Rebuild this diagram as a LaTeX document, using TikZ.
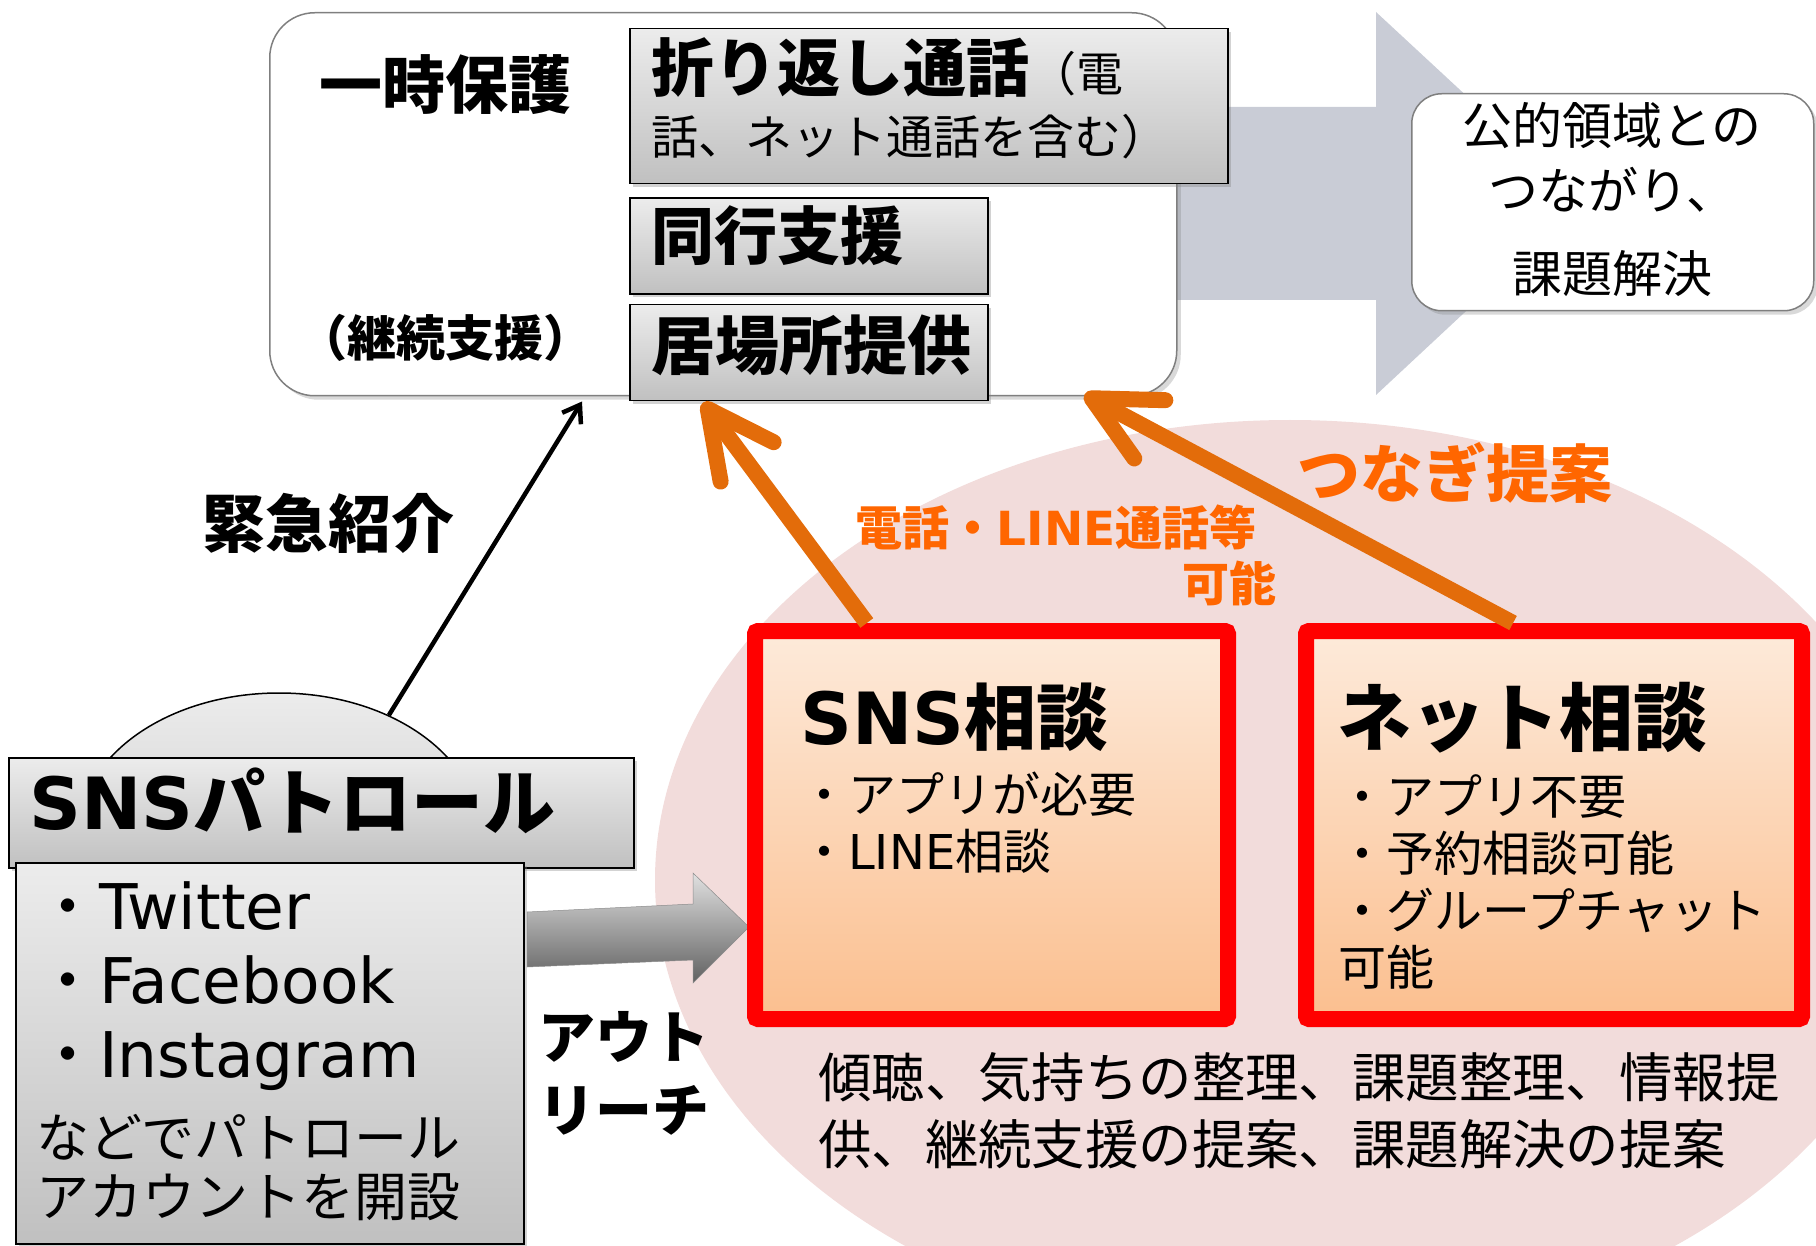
\documentclass[tikz,border=0pt]{standalone}
\usepackage{fontspec}
\setmainfont{Noto Sans CJK JP}
\newfontfamily\lat{DejaVu Sans}
\usepackage{tikz}
\usetikzlibrary{positioning}
\usetikzlibrary{arrows.meta,calc,shadows,shapes.geometric}

\definecolor{flowgray}{RGB}{201,204,214}
\definecolor{pinkbg}{RGB}{242,220,219}
\definecolor{arcorange}{RGB}{227,108,10}
\definecolor{txtorange}{RGB}{255,102,0}
\definecolor{peachtop}{RGB}{253,234,218}
\definecolor{peachbot}{RGB}{251,191,143}
\definecolor{graytop}{RGB}{236,236,236}
\definecolor{graybot}{RGB}{192,192,192}
\definecolor{edgegray}{RGB}{127,127,127}

\newcommand{\fsz}[2]{\fontsize{#1pt}{#2pt}\selectfont}

\begin{document}
\begin{tikzpicture}
    [x=1pt, y=-1pt, node distance = 10pt,
      panel/.style={draw=edgegray, line width=1.5pt, fill=white, anchor=north west, inner sep=0pt,
        drop shadow={opacity=0.3, shadow xshift=4pt, shadow yshift=-4pt}},
      graybox/.style={draw=black, line width=1.5pt, top color=graytop, bottom color=graybot, anchor=north west, inner sep=0pt,
        drop shadow={opacity=0.35, shadow xshift=3pt, shadow yshift=-3pt}},
      consult/.style={draw=red, line width=16pt, rounded corners=3pt, top color=peachtop, bottom color=peachbot,
        anchor=north west, inner sep=0pt, drop shadow={opacity=0.3, shadow xshift=2pt, shadow yshift=-4pt}},
      txt/.style={inner sep=0pt, align=left, anchor=west},
      darc/.style={-{Straight Barb[length=16pt,width=22pt]}, line width=4.5pt},
      oarc/.style={-{Straight Barb[length=66pt,width=66pt,round]}, line width=16pt, color=arcorange}]

    \useasboundingbox (0,0) rectangle (1816,1246);
    \clip (0,0) rectangle (1816,1246);

    % consultation area and flow to the public side
    \fill[pinkbg] (1290,880) ellipse [x radius=635, y radius=460];
    \fill[flowgray] (1150,107) -- (1376,107) -- (1376,12) -- (1582,203) -- (1376,395) -- (1376,300) -- (1150,300) -- cycle;

    \node (hogo) at (269,12) [panel, rounded corners=45pt, minimum width=907pt, minimum height=383pt] {};
    \node (orikaeshi) at (629,28) [graybox, minimum width=598pt, minimum height=155pt] {};
    \node (doko) [graybox, below right=13pt and 0pt of orikaeshi.south west, minimum width=358pt, minimum height=96pt] {};
    \node (ibasho) [graybox, below right=9pt and 0pt of doko.south west, minimum width=358pt, minimum height=96pt] {};
    \node (koteki) at (1411,93) [panel, rounded corners=30pt, minimum width=402pt, minimum height=217pt] {};

    \node (ichiji) at (319,85) [txt, font=\fsz{63}{70}\bfseries] {一時保護};
    \node (keizoku) at (298,338) [txt, font=\fsz{49}{56}\bfseries] {（継続支援）};
    \node (orikaeshiT) at (651,98) [txt, font=\fsz{47}{63}] {{\fsz{63}{63}\bfseries 折り返し通話}（電\\話、ネット通話を含む）};
    \node (dokoT) [txt, font=\fsz{63}{70}\bfseries, right=22pt of doko.west, yshift=11pt] {同行支援};
    \node (ibashoT) [txt, font=\fsz{64}{70}\bfseries, right=22pt of ibasho.west, yshift=7pt] {居場所提供};
    \node (kotekiT) at (1612,199) [font=\fsz{50}{65}, align=center, inner sep=0pt] {公的領域との\\つながり、\\[18pt]課題解決};

    % patrol side
    \node (dome) at (279,833) [ellipse, draw, line width=1.5pt, top color=graytop, bottom color=graybot, inner sep=0pt, minimum width=400pt, minimum height=280pt] {};
    \coordinate (hogoIn) at ($(hogo.south west)+(313,5)$);
    \draw[darc] (dome.47) -- (hogoIn);
    \node (kinkyu) at (202,523) [txt, font=\fsz{63}{70}\bfseries] {緊急紹介};

    \node (patrol) at (8,757) [graybox, minimum width=625pt, minimum height=110pt] {};
    \node (sites) at (15,862) [graybox, minimum width=508pt, minimum height=381pt] {};
    \node (patrolT) [txt, font=\fsz{72}{80}\bfseries, right=21pt of patrol.west, yshift=12pt] {{\lat SNS}パトロール};
    \node (sitesT) at (36,1051) [txt, font=\fsz{53}{74}] {{\fsz{63}{74}・\lat Twitter}\\{\fsz{63}{74}・\lat Facebook}\\{\fsz{63}{74}・\lat Instagram}\\[6pt]などでパトロール\\[-15pt]アカウントを開設};

    % outreach
    \shade[top color=black!12, bottom color=black!62, draw=black!45, line width=0.5pt] (527,912) -- (693,904) -- (693,873) -- (749,927) -- (693,983) -- (693,960) -- (527,967) -- cycle;
    \node (outreach) at (538,1073) [txt, font=\fsz{57}{73}\bfseries] {アウト\\リーチ};

    % consultation boxes
    \node (sns) at (747,623) [consult, minimum width=473pt, minimum height=388pt] {};
    \node (net) [consult, right=62pt of sns.north east, anchor=north west, minimum width=496pt, minimum height=388pt] {};
    \node (snsT) at (800,717) [txt, font=\fsz{72}{80}\bfseries] {{\lat SNS}相談};
    \node (snsL) at (800,823) [txt, font=\fsz{48}{57}] {・アプリが必要\\・{\lat LINE}相談};
    \node (netT) at (1337,718) [txt, font=\fsz{74}{80}\bfseries] {ネット相談};
    \node (netL) at (1338,882) [txt, font=\fsz{48}{57}] {・アプリ不要\\・予約相談可能\\・グループチャット\\可能};
    \node (role) at (818,1111) [txt, font=\fsz{53.4}{67}] {傾聴、気持ちの整理、課題整理、情報提\\供、継続支援の提案、課題解決の提案};

    % links back
    \coordinate (snsOut) at ($(sns.north west)!0.245!(sns.north east)$);
    \coordinate (netOut) at ($(net.north west)!0.42!(net.north east)$);
    \coordinate (ibashoIn) at ($(ibasho.south west)+(74,1)$);
    \coordinate (hogoSide) at ($(hogo.south east)+(-93,-2)$);
    \draw[oarc] (snsOut) -- (ibashoIn);
    \draw[oarc] (netOut) -- (hogoSide);

    \node (denwa) at (1277,555) [txt, anchor=east, align=right, font=\fsz{47}{56}\bfseries, text=txtorange] {電話・{\lat LINE}通話等\hspace*{20pt}\\可能};
    \node (tsunagi) at (1297,473) [txt, font=\fsz{63}{70}\bfseries, text=txtorange] {つなぎ提案};
\end{tikzpicture}
\end{document}
